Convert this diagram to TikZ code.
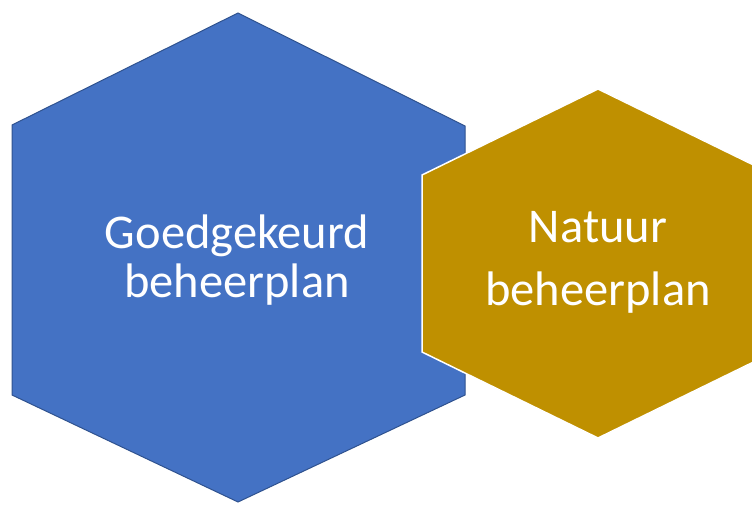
\documentclass[tikz,border=0pt]{standalone}
\usepackage{fontspec}
\setmainfont{Carlito}
\definecolor{hexblauw}{HTML}{4472C4}
\definecolor{hexrand}{HTML}{2F528F}
\definecolor{hexgoud}{HTML}{BF9000}
\tikzset{
  plantekst/.style={anchor=base, text=white, inner sep=0pt,
    font=\fontsize{48.5}{50}\selectfont},
}
\begin{document}
\begin{tikzpicture}[x=1pt, y=-1pt, line join=miter]
			\clip (0,0) rectangle (752,504);
			% blauwe zeshoek
			\filldraw[fill=hexblauw, draw=hexrand, line width=1pt]
				(238,13)--(465,126)--(465,395)--(238,502)--(12,395)--(12,125)--cycle;
			% gouden zeshoek
			\filldraw[fill=hexgoud, draw=white, line width=1.5pt]
				(598,89)--(774,175)--(774,352)--(598,438)--(422,352)--(422,175)--cycle;
			\node[plantekst] (goed) at (237,248) {Goedgekeurd};
			\node[plantekst] (beheer) at (237,297) {beheerplan};
			\node[plantekst] (natuur) at (598,242) {Natuur};
			\node[plantekst] (natbeheer) at (598,305) {beheerplan};
		\end{tikzpicture}
\end{document}
